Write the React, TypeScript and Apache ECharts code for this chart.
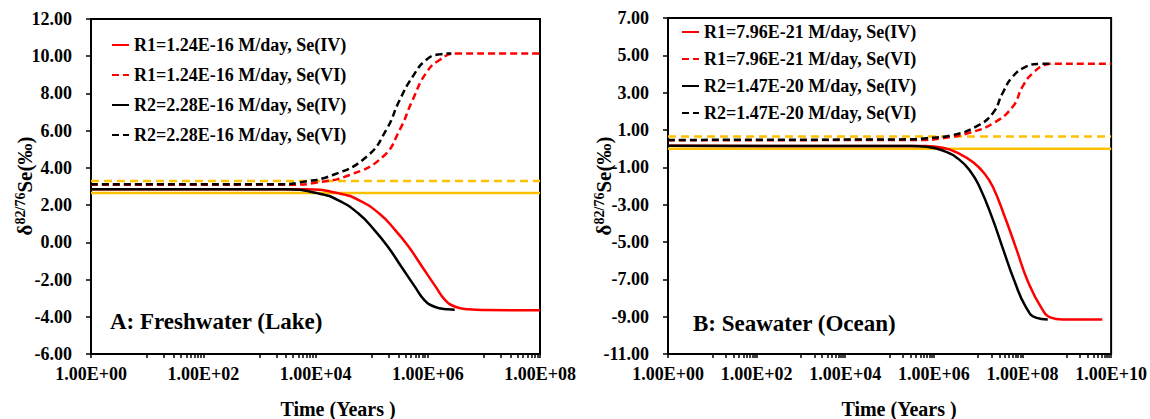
import React, { useEffect, useRef } from "react";
import * as echarts from "echarts";

const FONT = '"Liberation Serif", "Times New Roman", serif';
const RED = "#FF0000";
const BLACK = "#000000";
const ORANGE = "#FFC000";

// ---------- Panel A: Freshwater (Lake) ----------  x = log10(Time, years)
const namesA = [
  "R1=1.24E-16 M/day, Se(IV)",
  "R1=1.24E-16 M/day, Se(VI)",
  "R2=2.28E-16 M/day, Se(IV)",
  "R2=2.28E-16 M/day, Se(VI)",
];
const r1IV_A_x = [0, 3.82, 4.42, 4.77, 5.13, 5.42, 5.66, 5.9, 6.14, 6.31, 6.49, 6.73, 7.0, 8.0];
const r1IV_A_y = [2.85, 2.85, 2.63, 2.27, 1.56, 0.66, -0.24, -1.31, -2.38, -3.1, -3.46, -3.6, -3.64, -3.65];
const r1VI_A_x = [0, 3.6, 4.0, 4.61, 5.2, 5.5, 5.73, 5.97, 6.21, 6.51, 8.0];
const r1VI_A_y = [3.1, 3.1, 3.2, 3.62, 4.6, 6.04, 7.65, 9.1, 9.8, 10.15, 10.15];
const r2IV_A_x = [0, 3.45, 4.05, 4.4, 4.76, 5.05, 5.29, 5.53, 5.77, 5.94, 6.12, 6.36, 6.48];
const r2IV_A_y = [2.85, 2.85, 2.63, 2.27, 1.56, 0.66, -0.24, -1.31, -2.38, -3.1, -3.46, -3.6, -3.62];
const r2VI_A_x = [0, 3.4, 3.72, 4.31, 4.91, 5.26, 5.5, 5.73, 5.97, 6.21, 6.42];
const r2VI_A_y = [3.12, 3.12, 3.22, 3.62, 4.6, 6.04, 7.65, 8.9, 9.8, 10.1, 10.15];
const refIV_A = 2.65;
const refVI_A = 3.3;
const yTicksA = [-6, -4, -2, 0, 2, 4, 6, 8, 10, 12];
const xLabelsA = [0, 2, 4, 6, 8];

// ---------- Panel B: Seawater (Ocean) ----------
const namesB = [
  "R1=7.96E-21 M/day, Se(IV)",
  "R1=7.96E-21 M/day, Se(VI)",
  "R2=1.47E-20 M/day, Se(IV)",
  "R2=1.47E-20 M/day, Se(VI)",
];
const r1IV_B_x = [0, 5.8, 6.2, 6.6, 6.9, 7.13, 7.33, 7.6, 7.85, 8.12, 8.42, 8.64, 8.9, 9.8];
const r1IV_B_y = [0.15, 0.14, 0.05, -0.3, -0.75, -1.3, -2.04, -3.65, -5.3, -7.1, -8.5, -9.05, -9.15, -9.15];
const r1VI_B_x = [0, 5.8, 6.2, 6.8, 7.33, 7.78, 8.0, 8.23, 8.53, 8.7, 10];
const r1VI_B_y = [0.45, 0.47, 0.56, 0.85, 1.35, 2.25, 3.32, 4.04, 4.5, 4.55, 4.55];
const r2IV_B_x = [0, 5.5, 5.83, 6.2, 6.58, 6.85, 7.03, 7.3, 7.55, 7.82, 8.08, 8.3, 8.57];
const r2IV_B_y = [0.15, 0.14, 0.1, -0.1, -0.6, -1.3, -2.04, -3.6, -5.3, -7.1, -8.5, -9.05, -9.15];
const r2VI_B_x = [0, 5.5, 5.83, 6.43, 6.95, 7.33, 7.55, 7.78, 8.08, 8.38, 8.6];
const r2VI_B_y = [0.47, 0.5, 0.56, 0.73, 1.18, 1.9, 2.97, 3.86, 4.39, 4.54, 4.55];
const refIV_B = 0.0;
const refVI_B = 0.65;
const yTicksB = [-11, -9, -7, -5, -3, -1, 1, 3, 5, 7];
const xLabelsB = [0, 2, 4, 6, 8, 10];

function minorTicks(maxDec: number): number[] {
  const out: number[] = [];
  for (let d = 0; d <= maxDec; d += 2) {
    out.push(d);
    if (d + 1 < maxDec) {
      for (let k = 1; k <= 9; k++) out.push(d + 1 + Math.log10(k));
    }
  }
  return out;
}

function line(
  name: string,
  idx: number,
  xs: number[],
  ys: number[],
  color: string,
  dashed: boolean,
  z: number
) {
  return {
    type: "line",
    name,
    xAxisIndex: idx,
    yAxisIndex: idx,
    data: xs.map((x, i) => [x, ys[i]]),
    symbol: "none",
    showSymbol: false,
    smooth: 0.5,
    silent: true,
    z,
    lineStyle: { color, width: 2.5, type: dashed ? [7, 4] : "solid" },
    itemStyle: { color },
  };
}

function flat(name: string, idx: number, xmax: number, v: number, dashed: boolean) {
  return {
    type: "line",
    name,
    xAxisIndex: idx,
    yAxisIndex: idx,
    data: [
      [0, v],
      [xmax, v],
    ],
    symbol: "none",
    showSymbol: false,
    silent: true,
    z: 1,
    lineStyle: { color: ORANGE, width: 2.5, type: dashed ? [8, 5] : "solid" },
    itemStyle: { color: ORANGE },
  };
}

function xAxis(idx: number, maxDec: number, labels: number[]) {
  return {
    type: "value",
    gridIndex: idx,
    min: 0,
    max: maxDec,
    interval: 2,
    axisLine: { show: true, onZero: false, lineStyle: { color: "#000", width: 2 } },
    axisTick: {
      show: true,
      inside: false,
      length: 4,
      customValues: minorTicks(maxDec),
      lineStyle: { color: "#000", width: 1.5 },
    },
    axisLabel: {
      customValues: labels,
      hideOverlap: false,
      showMinLabel: true,
      showMaxLabel: true,
      margin: 11,
      fontFamily: FONT,
      fontWeight: "bold",
      fontSize: 18,
      color: "#000",
      formatter: (v: number) => "1.00E+" + String(Math.round(v)).padStart(2, "0"),
    },
    splitLine: { show: false },
  };
}

function yAxis(idx: number, min: number, max: number, ticks: number[]) {
  return {
    type: "value",
    gridIndex: idx,
    min,
    max,
    axisLine: { show: true, onZero: false, lineStyle: { color: "#000", width: 2 } },
    axisTick: {
      show: true,
      inside: false,
      length: 5,
      customValues: ticks,
      lineStyle: { color: "#000", width: 1.5 },
    },
    axisLabel: {
      customValues: ticks,
      margin: 19,
      fontFamily: FONT,
      fontWeight: "bold",
      fontSize: 18,
      color: "#000",
      formatter: (v: number) => v.toFixed(2),
    },
    splitLine: { show: false },
  };
}

function legend(names: string[], left: number, top: number, gap: number) {
  return {
    data: names,
    orient: "vertical",
    left,
    top,
    padding: 0,
    itemGap: gap,
    itemWidth: 17,
    itemHeight: 14,
    selectedMode: false,
    itemStyle: { opacity: 0, borderWidth: 0 },
    textStyle: { fontFamily: FONT, fontWeight: "bold", fontSize: 18, color: "#000" },
  };
}

const yTitleRich = {
  d: { fontFamily: FONT, fontWeight: "bold", fontSize: 21, lineHeight: 24, fill: "#000" },
  s: { fontFamily: FONT, fontWeight: "bold", fontSize: 14, lineHeight: 14, verticalAlign: "top", fill: "#000" },
  m: { fontFamily: FONT, fontWeight: "bold", fontSize: 21, lineHeight: 24, fill: "#000" },
};

function yTitle(x: number, y: number) {
  return {
    type: "text",
    x,
    y,
    rotation: Math.PI / 2,
    style: {
      text: "{d|δ}{s|82/76}{m|Se(‰)}",
      rich: yTitleRich,
      align: "center",
      verticalAlign: "middle",
    },
  };
}

function plainText(text: string, x: number, y: number, size: number, align: string) {
  return {
    type: "text",
    x,
    y,
    style: {
      text,
      fontFamily: FONT,
      fontWeight: "bold",
      fontSize: size,
      fill: "#000",
      align,
      verticalAlign: "middle",
    },
  };
}

const option: any = {
  animation: false,
  backgroundColor: "#fff",
  grid: [
    { left: 91, top: 19, width: 449, height: 335, show: true, borderColor: "#000", borderWidth: 2, backgroundColor: "transparent" },
    { left: 668, top: 18, width: 444, height: 336, show: true, borderColor: "#000", borderWidth: 2, backgroundColor: "transparent" },
  ],
  xAxis: [xAxis(0, 8, xLabelsA), xAxis(1, 10, xLabelsB)],
  yAxis: [yAxis(0, -6, 12, yTicksA), yAxis(1, -11, 7, yTicksB)],
  legend: [legend(namesA, 111, 36, 12), legend(namesB, 681, 23, 9)],
  series: [
    flat("Se(IV) reference A", 0, 8, refIV_A, false),
    flat("Se(VI) reference A", 0, 8, refVI_A, true),
    line(namesA[0], 0, r1IV_A_x, r1IV_A_y, RED, false, 2),
    line(namesA[1], 0, r1VI_A_x, r1VI_A_y, RED, true, 2),
    line(namesA[2], 0, r2IV_A_x, r2IV_A_y, BLACK, false, 3),
    line(namesA[3], 0, r2VI_A_x, r2VI_A_y, BLACK, true, 3),
    flat("Se(IV) reference B", 1, 10, refIV_B, false),
    flat("Se(VI) reference B", 1, 10, refVI_B, true),
    line(namesB[0], 1, r1IV_B_x, r1IV_B_y, RED, false, 2),
    line(namesB[1], 1, r1VI_B_x, r1VI_B_y, RED, true, 2),
    line(namesB[2], 1, r2IV_B_x, r2IV_B_y, BLACK, false, 3),
    line(namesB[3], 1, r2VI_B_x, r2VI_B_y, BLACK, true, 3),
  ],
  graphic: [
    yTitle(25, 186),
    yTitle(604, 186),
    plainText("Time (Years )", 338, 409, 20, "center"),
    plainText("Time (Years )", 899, 409, 20, "center"),
    plainText("A: Freshwater (Lake)", 110, 321, 23, "left"),
    plainText("B: Seawater (Ocean)", 693, 323, 23, "left"),
  ],
};

export default function App() {
  const ref = useRef<HTMLDivElement>(null);
  useEffect(() => {
    const chart = echarts.init(ref.current!, null, { renderer: "svg" });
    chart.setOption(option);
    return () => chart.dispose();
  }, []);
  return (
    <div
      ref={ref}
      style={{ position: "fixed", left: 0, top: 0, width: 1150, height: 419 }}
    />
  );
}
